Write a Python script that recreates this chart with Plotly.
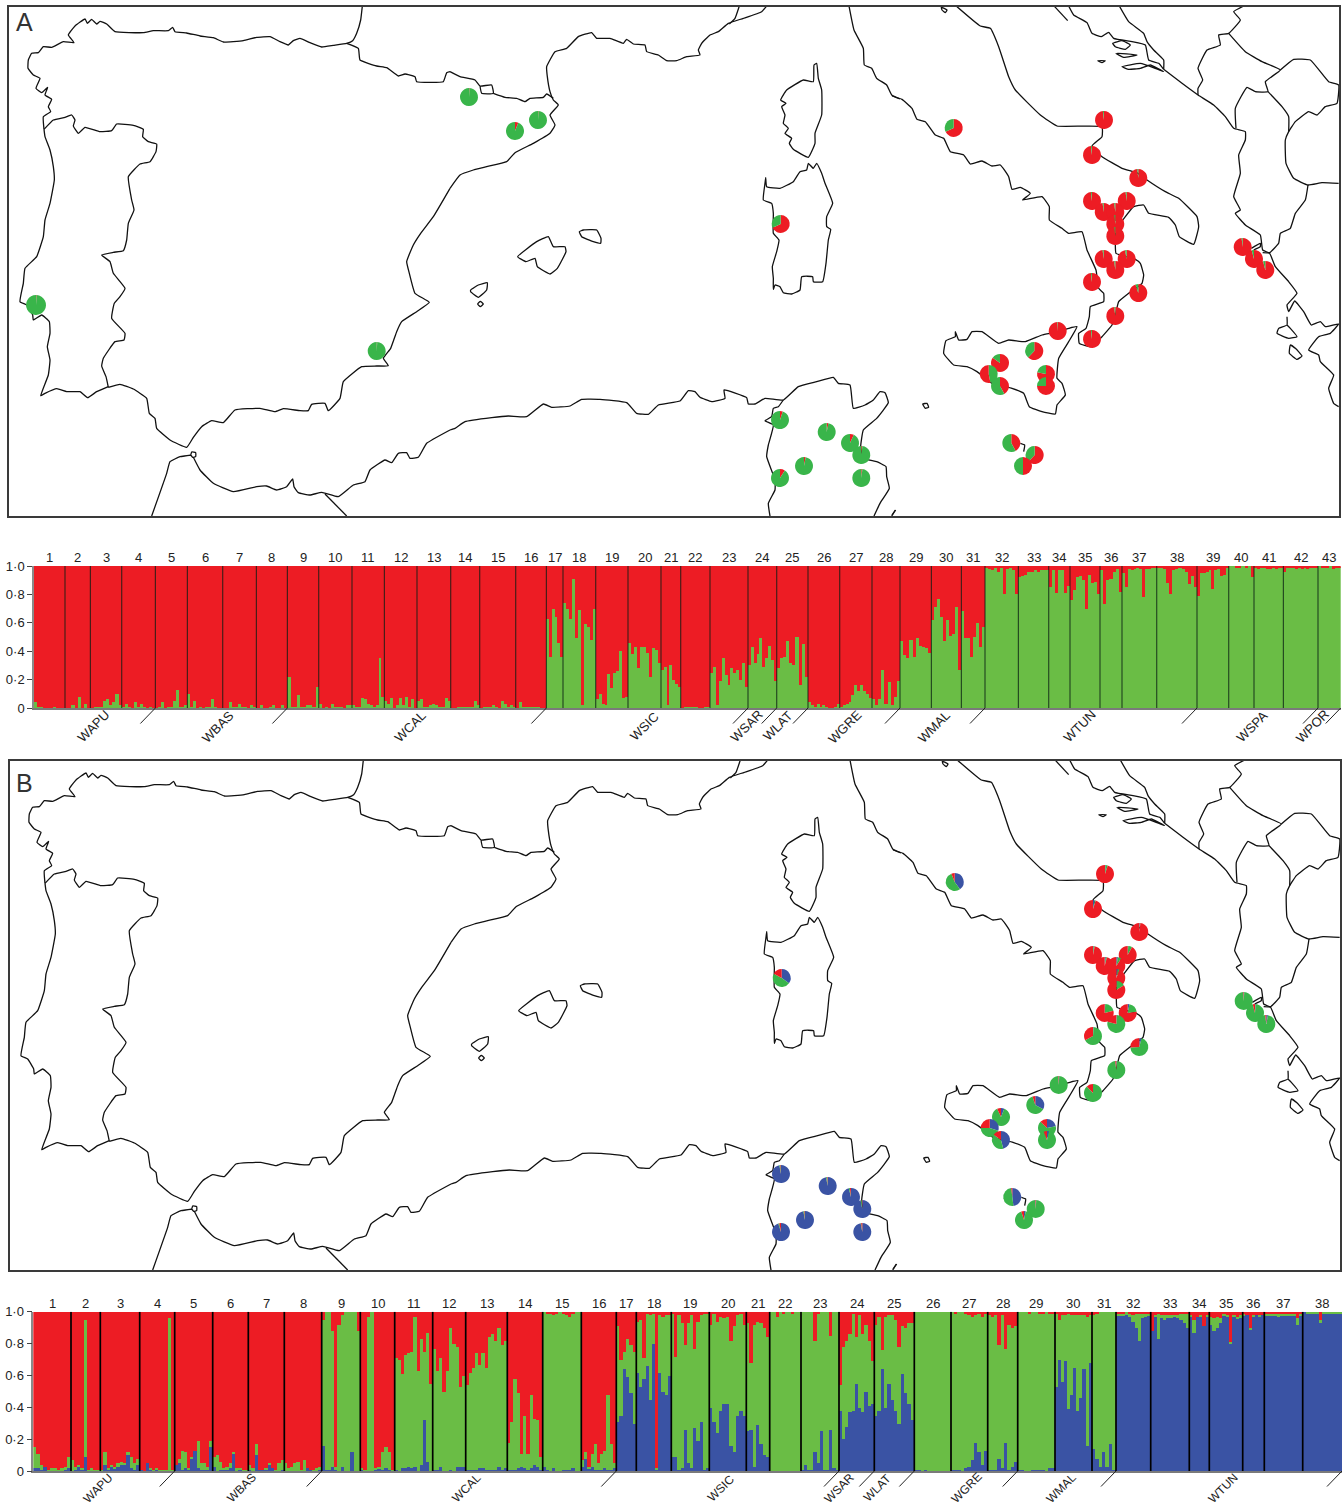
import plotly.graph_objects as go

W, H = 1342, 1508
RED, GREEN, BLUE = "#ED1C24", "#6ABD45", "#3A53A4"
PIE_GREEN = "#39B54A"

# ---------- map outlines (traced; units of the map, 3 per map pixel, per tile) ----------
TILE0_X = 0
TILE0 = [
 [(1087,18),(1082,60),(1070,100),(1058,122),(1040,130),(1000,136),(965,141),(930,128),(900,115),(880,122),(865,135),(840,125),(810,110),(770,112),(730,122),(670,126),(640,113),(600,108),(560,99),(525,95),(518,82),(505,92),(460,92),(430,98),(345,95),(320,72),(300,64),(290,72),(275,58),(262,70),(255,57),(225,78),(205,105),(222,128),(190,125),(155,142),(130,140),(115,158),(95,160),(85,180),(84,205),(100,225),(120,235),(108,265),(125,278),(143,262),(135,285),(155,298),(145,320),(152,335),(130,350),(132,388)],
 [(132,388),(160,360),(195,352),(215,345),(225,360),(220,378),(235,400),(255,382),(300,395),(335,392),(350,372),(400,376),(430,388),(428,410),(445,425),(470,432),(468,455),(450,485),(420,492),(385,530),(395,600),(402,630),(385,670),(380,720),(370,752),(340,757),(305,765),(330,785),(340,820),(375,865),(360,890),(343,910),(335,955),(375,1000),(372,1020),(345,1025),(310,1075),(305,1098),(318,1130),(325,1162)],
 [(132,388),(135,410),(150,450),(160,500),(163,540),(150,610),(135,660),(130,710),(110,770),(75,805),(70,850),(60,905),(80,915),(98,945),(100,960),(125,945),(148,965),(150,1000),(142,1040),(150,1080),(145,1125),(122,1187),(135,1180),(170,1166),(200,1175),(240,1175),(263,1193),(290,1175),(325,1160)],
 [(325,1162),(360,1153),(400,1167),(440,1195),(448,1240),(465,1255),(470,1285),(510,1320),(560,1342),(580,1312),(605,1280),(635,1262),(670,1268),(705,1230),(780,1225),(825,1235),(850,1226),(900,1232),(925,1232),(935,1213),(975,1210),(985,1232),(1020,1195),(1030,1145),(1085,1100),(1130,1098),(1165,1097),(1150,1075),(1172,1045),(1190,995),(1205,965),(1250,935),(1288,907),(1245,880),(1228,820),(1220,785),(1240,735),(1262,700),(1300,650),(1350,565)],
 [(1040,130),(1075,145),(1080,180),(1130,198),(1160,203),(1195,228),(1215,222),(1245,230),(1250,245),(1290,247),(1330,245),(1340,218),(1350,215)],
 [(455,1548),(500,1420),(510,1385),(540,1370),(572,1365),(575,1356),(587,1358),(587,1370),(578,1372),(572,1365)],
 [(580,1372),(600,1410),(640,1450),(700,1475),(770,1460),(800,1458),(830,1470),(860,1460),(878,1437),(882,1460),(895,1478),(930,1485),(965,1477),(1015,1490),(1060,1455),(1095,1445),(1110,1410),(1155,1380),(1175,1388),(1195,1360),(1220,1358),(1230,1375),(1255,1372),(1280,1330),(1350,1290)],
 [(975,1482),(1040,1548)],
]
TILE1_X = 450
TILE1 = [
 [(0,215),(30,230),(75,240),(90,258),(125,255),(130,280),(95,280),(90,258)],
 [(130,280),(165,292),(200,295),(225,305),(240,295),(280,292),(290,282),(310,295)],
 [(0,565),(30,525),(70,510),(110,500),(170,485),(195,458),(250,430),(300,400),(315,375),(300,345),(325,315),(310,300),(300,275),(292,230),(290,200),(315,155),(350,145),(385,110),(425,98),(440,115),(480,115),(520,130),(530,118),(550,132),(585,135),(590,155),(625,165),(650,182),(680,182),(710,170),(750,165),(745,150),(755,130),(780,105),(805,95),(835,70),(880,55),(935,35),(950,18)],
 [(868,18),(855,55),(838,72)],
 [(1197,18),(1212,90),(1240,145),(1243,195),(1265,205),(1280,235),(1310,255),(1325,285),(1350,297)],
 [(1075,472),(1030,448),(1018,430),(1025,415),(1005,400),(1015,385),(1000,370),(1005,345),(995,320),(1008,310),(992,300),(1010,270),(1060,240),(1090,245),(1092,195),(1100,190),(1105,235),(1115,270),(1115,345),(1095,400),(1095,430),(1075,472)],
 [(947,533),(950,560),(990,565),(1030,545),(1050,515),(1070,510),(1075,490),(1090,505),(1100,490),(1115,520),(1125,550),(1148,610),(1130,650),(1130,680),(1142,688),(1135,720),(1128,790),(1118,845),(1090,845),(1088,830),(1055,830),(1050,870),(1025,882),(1000,878),(990,860),(975,855),(970,868),(970,835),(967,800),(980,755),(987,720),(970,700),(970,640),(965,610),(940,600),(945,550),(947,533)],
 [(203,770),(260,725),(295,710),(310,740),(345,740),(348,755),(322,805),(300,822),(262,800),(255,775),(228,785),(203,770)],
 [(388,695),(400,690),(440,690),(453,715),(452,730),(430,725),(395,710),(388,695)],
 [(62,870),(85,855),(112,848),(110,870),(85,892),(62,875),(62,870)],
 [(83,912),(91,904),(100,912),(91,920),(83,912)],
 [(0,1290),(15,1285),(45,1265),(125,1253),(175,1248),(230,1250),(280,1212),(305,1222),(360,1218),(395,1198),(450,1198),(530,1208),(560,1240),(595,1243),(625,1215),(690,1203),(715,1172),(735,1175),(750,1192),(785,1205),(825,1195),(822,1170),(890,1193),(895,1212),(915,1212),(945,1195),(1000,1200),(1045,1160),(1100,1145),(1150,1132),(1165,1150),(1200,1155),(1210,1225),(1245,1215),(1270,1200),(1290,1175),(1305,1178),(1315,1208),(1280,1255),(1240,1290),(1232,1340),(1240,1375),(1280,1385),(1308,1400),(1310,1430),(1318,1465),(1290,1510),(1272,1548)],
 [(1000,1200),(985,1220),(970,1225),(965,1250),(945,1262),(970,1275),(955,1335),(950,1370),(975,1440),(975,1470),(955,1510),(960,1548)],
 [(1325,1548),(1337,1530)],
]
TILE2_X = 892
TILE2 = [
 [(0,288),(30,298),(60,325),(75,358),(100,365),(130,405),(155,415),(175,455),(215,465),(235,492),(270,483),(300,498),(325,495),(350,530),(360,568),(385,562),(415,580),(392,600),(450,590),(472,620),(472,660),(510,685),(530,700),(570,695),(585,750),(612,810),(620,865),(635,880),(635,905),(595,920),(592,950),(582,985),(560,1000),(562,1030),(595,1040),(630,1010),(660,975),(670,945),(680,905),(710,880),(750,850),(755,825),(745,790),(730,778),(672,760),(670,735),(672,690),(700,650),(725,620),(755,615),(770,640),(830,652),(850,675),(862,710),(905,733),(920,680),(915,650),(860,595),(820,575),(765,540),(738,520),(690,505),(630,470),(600,438),(630,410),(630,380),(495,378),(445,345),(370,270),(350,230),(320,140),(295,85),(265,78),(195,20)],
 [(488,20),(527,62)],
 [(530,18),(545,45),(585,68),(600,100),(628,110),(650,97),(665,115),(720,125),(760,135),(770,180),(800,190),(815,208)],
 [(815,215),(775,195),(745,205),(710,208),(690,200),(745,190),(790,205),(815,215)],
 [(682,18),(710,65),(755,100),(765,125),(785,150),(815,180),(815,208)],
 [(815,208),(870,250),(918,285),(965,315),(1000,350),(1025,385),(1060,395),(1060,420),(1040,465),(1045,520),(1025,590),(1045,630),(1030,640),(1060,675),(1105,705),(1112,750),(1133,760),(1150,800),(1190,845),(1215,880),(1185,915),(1190,935),(1208,903),(1235,935),(1258,975),(1285,965),(1300,980),(1340,972),(1315,1000),(1280,1010),(1250,1050),(1280,1065),(1285,1085),(1325,1125),(1310,1165),(1325,1210),(1340,1220)],
 [(918,285),(918,265),(932,240),(918,205),(945,150),(985,135),(980,105),(1010,100),(1045,60),(1025,35),(1055,18)],
 [(1010,100),(1060,155),(1110,185),(1165,210),(1120,245),(1128,275),(1090,275),(1065,262),(1030,325),(1032,385)],
 [(1165,210),(1205,178),(1255,180),(1310,245),(1340,255),(1335,310),(1300,320),(1275,345),(1250,335),(1210,365),(1190,395),(1180,420),(1182,490),(1205,535),(1248,555),(1290,548),(1340,550)],
 [(1128,275),(1170,320),(1190,350),(1190,395)],
 [(1248,555),(1240,600),(1210,640),(1195,685),(1165,700),(1160,730),(1133,758),(1112,758)],
 [(1078,745),(1105,730),(1105,740),(1085,750)],
 [(1185,950),(1185,975),(1160,985),(1155,1000),(1190,1015),(1215,1010),(1195,985),(1185,975)],
 [(1195,1035),(1192,1060),(1215,1078),(1230,1068),(1210,1045),(1195,1035)],
 [(555,980),(530,985),(490,997),(450,1005),(400,1025),(350,1020),(320,1030),(270,995),(240,995),(225,1018),(200,1020),(190,995),(190,1010),(162,1022),(155,1060),(185,1095),(225,1100),(255,1115),(300,1150),(360,1165),(395,1180),(412,1220),(450,1235),(490,1242),(495,1215),(520,1185),(510,1150),(495,1135),(500,1075),(530,1025),(555,980)],
 [(92,1212),(105,1210),(110,1222),(100,1225),(92,1212)],
 [(385,1330),(398,1335),(395,1355)],
 [(148,22),(165,30),(160,38),(150,30),(148,22)],
 [(662,130),(690,122),(715,135),(700,148),(670,140),(662,130)],
 [(672,160),(735,165),(695,172),(672,160)],
 [(617,182),(640,182),(630,188),(617,182)],
 [(0,1545),(10,1530)],
]

# ---------- sampling sites ----------
SITE_X = [36,376.7,469,515,538,780.7,780,826.7,850,861.3,804,780,861.3,953.7,1104,1092,1138.3,1092,1126.7,1103.7,1115.3,1115.3,1115.3,1103.7,1126.7,1115.3,1092,1138.3,1115.3,1092,1057.7,1034.3,1000,988.7,1000,1046,1046,1011.3,1034.7,1023,1242.7,1254,1265.3]
SITE_Y = [305,351,97,131,120,224,420,432,443,455,466,478,478,128,120,155,178,201,201,212,212,224,236,259,259,270,282,293,316,339,331,351,363,374,386,374,386,443,455,466,247,259,270]
# clockwise from 12 o'clock: red part, then green part, the rest red again
A_PIE_RED1 = [1,1,1,6,1,68,5,3,7,2,3,9,2,68,98,98,98,98,98,98,98,98,98,98,97,98,98,95,98,98,99,62,85,0,42,78,75,42,62,50,98,96,96]
A_PIE_GREEN = [99,99,99,94,99,32,95,97,93,98,97,91,98,32,2,2,2,2,2,2,2,2,2,2,3,2,2,5,2,2,1,38,15,47,58,22,25,58,38,50,2,4,4]
# panel B has no pie at the first five sites
B_FIRST_SITE = 5
B_PIE_BLUE = [35,97,97,96,97,97,95,97,40,1,3,1,1,1,2,3,3,1,1,3,1,1,4,1,0,1,33,6,30,46,22,4,48,1,3,1,1,3]
B_PIE_GREEN = [48,2,2,2,2,2,2,1,54,4,2,1,2,7,2,6,3,15,20,20,78,66,70,97,88,98,62,87,45,39,65,90,50,98,92,98,95,95]

# ---------- panel A: membership per individual, one list per population ----------
A_POP_WIDTH = [31,25.4,31.3,33.7,32,35.3,33.7,31,31.3,33.3,32.4,32.6,33.7,29,36,30.7,16.6,32.7,32.3,33,19.7,29.3,38,28.7,31.3,31.7,32.3,28,31.4,30,23.6,33.4,30.3,21.3,30,22,34.7,40.3,31.7,25.3,29.4,34.6,22.7]
A_GREEN = [
 [4,1,1,0,0,0,1,0,0,0],[0,0,2,0,8,0,3,0],[0,1,1,1,5,6,2,4,10,2],[1,3,1,0,4,1,3,1,0,1,0],
 [0,1,4,0,1,1,5,13,1,1,2],[10,1,5,0,1,0,1,1,6,1,0,0],[0,0,4,1,1,3,1,1,0,2,1],[0,2,0,0,1,2,0,0,2,0],
 [22,1,1,9,1,1,2,2,1,15],[3,0,1,0,3,1,1,1,0,2,2],[2,1,1,7,6,3,2,1,2,35,8],[5,3,7,0,2,7,2,8,1,6,0],
 [5,6,1,1,2,3,2,1,1,7,5],[0,0,1,1,1,1,1,1,5,2],[0,1,1,1,2,1,0,5,3,1,2,1],[0,4,1,1,1,1,1,1,0,0],
 [63,36,70,64,46,36],[74,70,63,91,49,69,2,59,57,48,70],[6,10,3,2,24,14,25,26,40,7,8],
 [46,38,43,28,43,43,39,22,42,41,32],[27,29,2,30,20,17,15],[0,1,1,1,1,1,0,0,1,1],
 [25,29,2,19,35,23,16,28,25,27,20,32,15],[30,43,32,38,49,29,35,44,34,19],[28,35,36,47,32,30,50,16,45,22],
 [4,2,1,3,1,2,1,0,0,1,3],[1,2,3,4,9,16,12,16,12,10,7],[6,2,6,27,3,18,2,8,19],
 [47,37,35,48,36,49,44,43,42,39],[62,71,77,64,47,62,51,52,71,27],[68,49,49,36,50,60,43,57],
 [99,98,97,99,96,99,80,98,99,97,80],[92,93,94,96,96,97,96,97,97,97],[85,97,81,97,97,81,86],
 [76,83,92,93,90,70,94,88,89,80],[97,73,90,91,96,98,82],[95,85,98,97,98,99,98,78,98,98,99,99],
 [99,99,98,88,80,97,98,99,98,96,87,93,85],[79,95,95,96,97,84,97,98,93,94,99],[100,100,99,99,100,99,100,92],
 [99,98,99,99,98,98,99,98,99,99],[96,99,99,99,98,99,98,99,98,99,99,99],[100,99,99,99,100,98,99,99],
]
A_GROUPS = ["WAPU","WBAS","WCAL","WSIC","WSAR","WLAT","WGRE","WMAL","WTUN","WSPA","WPOR"]
A_GROUP_END = [4,8,16,23,24,25,28,31,38,42,43]
A_GROUP_X = [59,184,376,610,712,743,811,900,1045,1218,1278]

# ---------- panel B ----------
B_POP_WIDTH = [37.7,29.3,39.4,35,38,35.6,36,37.4,38.6,34.4,38,33,41.6,35.4,38.6,35,20,35,38,37,23.4,31.3,38,35.3,40,36.7,36.7,30,37.3,37,24,34.7,38.6,20,33.4,21.6,38.4,39.3]
B_BLUE = [
 [2,2,1,3,0,0,0,0,0,1,2],[0,1,3,1,9,0,0,0,0],[0,4,1,3,2,3,4,4,10,2,1,4],[1,0,5,1,0,1,0,0,0,0,0],
 [4,5,1,2,1,8,13,2,1,1,1,15],[3,0,1,1,1,2,11,0,1,0,0],[1,0,10,1,1,1,4,2,0,0,1],[0,0,0,0,0,0,0,2,1,0,0,1],
 [16,1,1,3,1,0,3,0,0,12,0,0],[1,0,0,0,1,2,1,2,1,0],[1,0,2,2,3,2,3,0,4,32,6,0],[1,1,3,0,0,1,0,3,3,3],
 [1,1,1,1,2,2,1,1,1,1,3,1,2],[1,1,1,2,3,2,1,2,4,3,1],[3,1,0,2,0,0,1,1,1,2,0,0],[3,8,2,3,1,1,1,2,1,1,2],
 [31,35,64,59,49,30],[62,53,58,66,45,80,1,62,50,48,60],[9,9,1,2,26,5,2,27,19,31,1,2],
 [40,31,24,38,42,42,16,12,35,38,35],[25,26,3,29,17,10,9],[0,0,0,0,0,0,0,0,0,0],
 [1,4,1,1,12,5,25,1,1,26,2,1],[38,20,28,37,38,55,40,37,50,41,42],[35,38,64,40,55,45,38,30,61,49,42,32],
 [1,1,0,1,0,0,0,0,0,0,0],[1,1,1,0,2,3,7,18,12,4,13],[1,1,1,8,2,18,1,3,6],[1,1,0,0,1,1,1,1,0,2,2],
 [53,70,56,69,39,48,65,38,46,64,16,68],[14,8,3,12,3,17,1],[98,98,98,98,97,94,90,82,96,97,98],
 [88,97,83,96,95,96,96,97,96,95,93,90],[97,87,97,97,91,97],[92,88,90,93,98,97,80,97,96,96],[98,98,89,97,98,97,98],
 [98,98,98,98,97,98,98,98,98,98,92,98],[100,99,99,99,99,93,99,99,99,99,99,99],
]
B_GREEN_TOP = [
 [15,11,4,3,1,2,2,1,2,3,9],[7,3,4,2,95,1,2,1,1],[1,12,2,4,3,5,6,5,12,9,5,8],[1,0,5,2,1,2,1,1,1,96,1],
 [4,8,13,12,2,9,13,19,5,5,3,19],[9,10,6,2,3,5,12,2,2,1,1],[4,2,17,1,1,2,5,2,1,5,7],[5,2,3,5,6,1,7,2,1,1,2,3],
 [95,100,100,88,3,92,98,100,100,100,100,88],[2,1,97,100,2,3,12,15,12,1],[71,70,61,73,74,75,97,63,83,75,87,55],
 [77,63,71,50,63,90,80,78,53,60],[54,62,65,74,67,74,65,84,86,82,90,79,82],[18,31,58,49,11,35,11,48,33,32,9],
 [100,99,99,98,99,100,99,98,97,99,100,100],[7,12,3,11,17,5,11,13,48,17,5],[91,70,75,83,79,75],
 [94,95,71,99,98,99,2,98,97,98,98],[99,72,98,93,79,93,98,77,94,98,99,99],[92,99,94,97,96,97,82,91,98,99,92],
 [93,68,92,94,93,90,84],[100,100,97,100,99,100,100,99,100,100],[100,100,100,100,82,99,100,100,100,85,100,100],
 [54,78,82,86,99,84,98,86,92,82,69],[92,97,76,97,98,98,95,78,91,90,93,93],[100,100,100,100,100,100,100,100,100,100,100],
 [100,99,100,100,99,98,97,98,99,97,99],[98,97,98,79,98,77,92,90,91],[100,100,100,99,100,100,99,99,100,99,99],
 [99,95,98,98,99,98,98,98,98,98,97,98],[98,99,100,100,100,100,100],[99,99,99,100,99,98,99,99,99,99,99],
 [88,98,99,98,98,98,98,98,98,99,99,99],[98,95,97,98,91,98],[97,96,97,96,99,98,81,98,97,98],[99,98,90,98,98,98,98],
 [99,99,99,99,99,99,99,99,99,99,96,99],[100,100,100,100,100,95,100,100,100,100,100,100],
]
B_GROUPS = ["WAPU","WBAS","WCAL","WSIC","WSAR","WLAT","WGRE","WMAL","WTUN"]
B_GROUP_END = [4,8,16,23,24,25,28,31,38]
B_GROUP_X = [65,208,433,688,806,844,933,1028,1190]

Y_TICKS = [0,0.2,0.4,0.6,0.8,1.0]
Y_LABELS = ["0","0·2","0·4","0·6","0·8","1·0"]

# ---------- build ----------
fig = go.Figure()


def fy(py):
    return 1 - py / H


def coast_xy():
    xs, ys = [], []
    for off, tile in ((TILE0_X, TILE0), (TILE1_X, TILE1), (TILE2_X, TILE2)):
        for line in tile:
            xs += [off + p[0] / 3 for p in line] + [None]
            ys += [p[1] / 3 for p in line] + [None]
    return xs, ys


cx, cy = coast_xy()
for ax in ("", "2"):
    fig.add_trace(go.Scatter(x=cx, y=cy, mode="lines", xaxis="x" + ax, yaxis="y" + ax, hoverinfo="skip",
                             line=dict(color="#111", width=1.3, shape="spline", smoothing=0.35), showlegend=False))


def map_axes(l, t, r, b):
    ax = dict(domain=[l / W, r / W], range=[9, 1339], showgrid=False, zeroline=False, showticklabels=False,
              ticks="", showline=True, mirror=True, linecolor="#3a3a3a", linewidth=1.5)
    ay = dict(domain=[fy(b), fy(t)], range=[516, 7], showgrid=False, zeroline=False, showticklabels=False,
              ticks="", showline=True, mirror=True, linecolor="#3a3a3a", linewidth=1.5)
    return ax, ay


shapes = []


def bar_panel(ax, widths, stacks, colors, ends, group_names, group_x, left, bottom, h, num_dy, grp_dy, grp_size, sep_color, sep_w):
    xa, ya = "x" + ax, "y" + ax
    edges = [0]
    for w in widths:
        edges.append(edges[-1] + w)
    xs, ws = [], []
    for i, n in enumerate(len(p) for p in stacks[0]):
        step = widths[i] / n
        for j in range(n):
            xs.append(edges[i] + (j + 0.5) * step)
            ws.append(step)
    for pops, col in zip(stacks, colors):
        vals = [v / 100 for p in pops for v in p]
        fig.add_trace(go.Bar(x=xs, y=vals, width=ws, xaxis=xa, yaxis=ya, marker=dict(color=col, line=dict(width=0)),
                             hoverinfo="skip", showlegend=False))
    sx, sy = [], []
    for e in edges[1:-1]:
        sx += [e, e, None]
        sy += [0, 1, None]
    fig.add_trace(go.Scatter(x=sx, y=sy, mode="lines", xaxis=xa, yaxis=ya, hoverinfo="skip", showlegend=False,
                             line=dict(color=sep_color, width=sep_w)))
    for e in ends:
        px = left + edges[e]
        shapes.append(dict(type="line", xref="paper", yref="paper", x0=px / W, x1=(px - 15) / W,
                           y0=fy(bottom), y1=fy(bottom + 15.5), line=dict(color="#222", width=1)))
    for i in range(len(widths)):
        fig.add_annotation(x=(left + (edges[i] + edges[i + 1]) / 2) / W, y=fy(bottom - h - num_dy), xref="paper",
                           yref="paper", text=str(i + 1), showarrow=False, font=dict(size=13, color="#222"),
                           xanchor="center", yanchor="middle")
    for name, gx in zip(group_names, group_x):
        fig.add_annotation(x=(left + gx) / W, y=fy(bottom + grp_dy), xref="paper", yref="paper", text=name,
                           textangle=-45, showarrow=False, font=dict(size=grp_size, color="#222"),
                           xanchor="center", yanchor="middle")
    return edges[-1]


a_red = [[100 - v for v in p] for p in A_GREEN]
a_total = bar_panel("3", A_POP_WIDTH, [A_GREEN, a_red], [GREEN, RED], A_GROUP_END, A_GROUPS, A_GROUP_X,
                    34, 708, 142, 9, 18, 13, "rgba(10,30,20,0.72)", 1.2)
b_green = [[max(t - b, 0) for t, b in zip(tp, bp)] for tp, bp in zip(B_GREEN_TOP, B_BLUE)]
b_red = [[100 - t for t in tp] for tp in B_GREEN_TOP]
b_total = bar_panel("4", B_POP_WIDTH, [B_BLUE, b_green, b_red], [BLUE, GREEN, RED], B_GROUP_END, B_GROUPS, B_GROUP_X,
                    33.3, 1471, 159.3, 8.5, 17, 12, "#000", 1.7)

R = 9
for i, (sx, sy) in enumerate(zip(SITE_X, SITE_Y)):
    r = R + 1 if i == 0 else R
    g = A_PIE_GREEN[i]
    r1 = A_PIE_RED1[i]
    fig.add_trace(go.Pie(values=[r1, g, max(100 - r1 - g, 0)], labels=["r", "g", "s"], sort=False, direction="clockwise",
                         rotation=0, textinfo="none", hoverinfo="skip", showlegend=False,
                         marker=dict(colors=[RED, PIE_GREEN, RED], line=dict(width=0)),
                         domain=dict(x=[(sx - r) / W, (sx + r) / W], y=[fy(sy + r), fy(sy - r)])))
for k, i in enumerate(range(B_FIRST_SITE, len(SITE_X))):
    sx, sy = SITE_X[i] + 1, SITE_Y[i] + 754
    b, g = B_PIE_BLUE[k], B_PIE_GREEN[k]
    fig.add_trace(go.Pie(values=[b, g, max(100 - b - g, 0)], labels=["b", "g", "r"], sort=False, direction="clockwise",
                         rotation=0, textinfo="none", hoverinfo="skip", showlegend=False,
                         marker=dict(colors=[BLUE, PIE_GREEN, RED], line=dict(width=0)),
                         domain=dict(x=[(sx - R) / W, (sx + R) / W], y=[fy(sy + R), fy(sy - R)])))

xa1, ya1 = map_axes(9, 7, 1339, 516)
xa2, ya2 = map_axes(10, 761, 1340, 1270)


def bar_axes(l, t, b, total):
    ax = dict(domain=[l / W, (l + total) / W], range=[0, total], showgrid=False, zeroline=False, showticklabels=False,
              ticks="", showline=True, linecolor="#7a7a7a", linewidth=1.5)
    ay = dict(domain=[fy(b), fy(t)], range=[0, 1], showgrid=False, zeroline=False, tickmode="array", tickvals=Y_TICKS,
              ticktext=Y_LABELS, ticks="outside", ticklen=5, tickwidth=1, tickcolor="#444",
              tickfont=dict(size=13, color="#222"), showline=True, linecolor="#8a8a8a", linewidth=1.5)
    return ax, ay


xa3, ya3 = bar_axes(34, 566, 708, a_total)
xa4, ya4 = bar_axes(33.3, 1311.7, 1471, b_total)
xa3["anchor"], ya3["anchor"] = "y3", "x3"
xa4["anchor"], ya4["anchor"] = "y4", "x4"
xa2["anchor"], ya2["anchor"] = "y2", "x2"

fig.update_layout(
    width=W, height=H, margin=dict(l=0, r=0, t=0, b=0, autoexpand=False), autosize=False,
    paper_bgcolor="white", plot_bgcolor="white", barmode="stack", bargap=0,
    font=dict(family="Liberation Sans, Arial, sans-serif", color="#222"), showlegend=False,
    xaxis=xa1, yaxis=ya1, xaxis2=xa2, yaxis2=ya2, xaxis3=xa3, yaxis3=ya3, xaxis4=xa4, yaxis4=ya4,
    shapes=shapes,
)
for letter, px, py in (("A", 24, 22), ("B", 24, 783)):
    fig.add_annotation(x=px / W, y=fy(py), xref="paper", yref="paper", text=letter, showarrow=False,
                       font=dict(size=25, color="#333"), xanchor="center", yanchor="middle")

fig.write_html("out.html", post_script="document.body.style.margin='0';", config=dict(displayModeBar=False))
